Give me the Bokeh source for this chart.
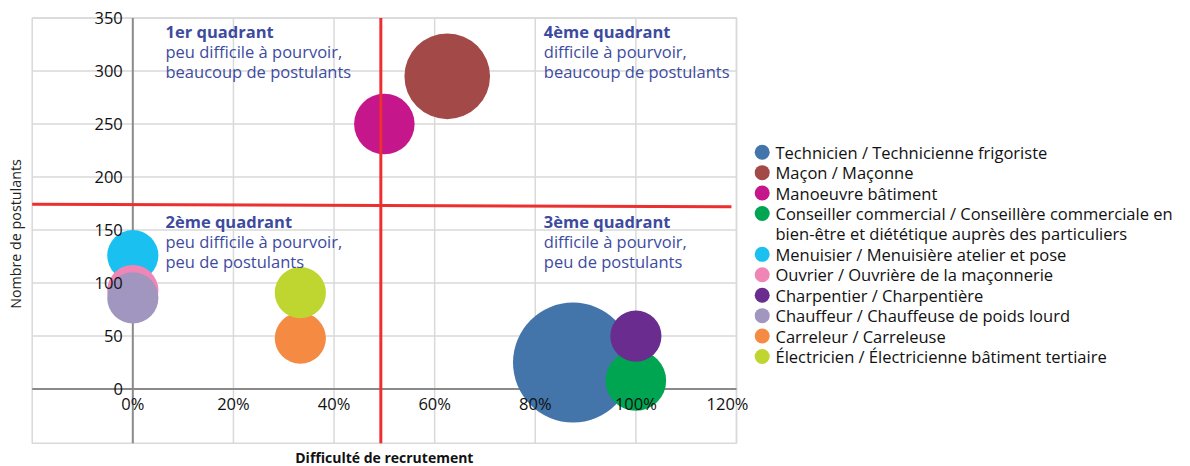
import math
from bokeh.plotting import figure
from bokeh.layouts import row
from bokeh.models import Range1d, FixedTicker, Label, ColumnDataSource
from bokeh.core.properties import value
from bokeh.embed import file_html
from bokeh.resources import INLINE

# ---------------- data ----------------
metiers = [
    "Technicien / Technicienne frigoriste",
    "Maçon / Maçonne",
    "Manoeuvre bâtiment",
    "Conseiller commercial / Conseillère commerciale en\nbien-être et diététique auprès des particuliers",
    "Menuisier / Menuisière atelier et pose",
    "Ouvrier / Ouvrière de la maçonnerie",
    "Charpentier / Charpentière",
    "Chauffeur / Chauffeuse de poids lourd",
    "Carreleur / Carreleuse",
    "Électricien / Électricienne bâtiment tertiaire",
]
difficulte = [0.875, 0.625, 0.50, 1.00, 0.0, 0.0, 1.00, 0.0, 0.333, 0.333]
postulants = [25, 295, 250, 8, 126, 93, 50, 86, 48, 91]
taille = [55, 28, 14, 14, 10, 10, 10, 10, 10, 10]
couleurs = ["#4374aa", "#a34a48", "#c5168b", "#00a551", "#19c0f0",
            "#ef86b6", "#6a2c8e", "#a096bf", "#f58b43", "#bfd631"]

x_ticks = [0, 0.2, 0.4, 0.6, 0.8, 1.0, 1.2]
x_tick_labels = ["0%", "20%", "40%", "60%", "80%", "100%", "120%"]
y_ticks = [0, 50, 100, 150, 200, 250, 300, 350]
y_tick_labels = ["0", "50", "100", "150", "200", "250", "300", "350"]

# plot area (value extent)
x_min, x_max = -0.2, 1.2
y_min, y_max = -51, 350

seuil_difficulte = 0.493
seuil_postulants_x = [-0.2, 1.19]
seuil_postulants_y = [174.4, 171.9]

quadrant_titres = ["1er quadrant", "2ème quadrant", "3ème quadrant", "4ème quadrant"]
quadrant_textes = [
    ["peu difficile à pourvoir,", "beaucoup de postulants"],
    ["peu difficile à pourvoir,", "peu de postulants"],
    ["difficile à pourvoir,", "peu de postulants"],
    ["difficile à pourvoir,", "beaucoup de postulants"],
]
quadrant_x = [0.065, 0.065, 0.817, 0.817]
quadrant_y = [336.8, 158.4, 158.4, 336.8]

titre_x = "Difficulté de recrutement"
titre_y = "Nombre de postulants"

# ---------------- layout (pixels) ----------------
FONT = "Open Sans"
QCOL = "#3d4b9f"
RED = "#ec2f2f"
GRID = "#d9d9d9"
R_MAX = 60.0

W_MAIN, H = 748, 466
PL, PR, PT, PB = 31.7, 736.0, 17.5, 442.7   # plot-area box inside the canvas
kx = (PR - PL) / (x_max - x_min)
ky = (PB - PT) / (y_max - y_min)
xr = Range1d(x_min - PL / kx, x_max + (W_MAIN - PR) / kx)
yr = Range1d(y_min - (H - PB) / ky, y_max + PT / ky)

p = figure(frame_width=W_MAIN, frame_height=H, x_range=xr, y_range=yr,
           min_border=0, toolbar_location=None, output_backend="svg",
           background_fill_color="white", border_fill_color="white")
p.outline_line_color = None
p.grid.visible = False

# grid lines and plot-area border
p.segment(x0=x_ticks[1:], y0=[y_min] * (len(x_ticks) - 1), x1=x_ticks[1:], y1=[y_max] * (len(x_ticks) - 1),
          line_color=GRID, line_width=1.5)
p.segment(x0=[x_min] * (len(y_ticks) - 1), y0=y_ticks[1:], x1=[x_max] * (len(y_ticks) - 1), y1=y_ticks[1:],
          line_color=GRID, line_width=1.5)
p.quad(left=[x_min], right=[x_max], bottom=[y_min], top=[y_max],
       fill_color=None, line_color=GRID, line_width=1.5)
# axis lines through the origin
p.segment(x0=[0, x_min], y0=[y_min, 0], x1=[0, x_max], y1=[y_max, 0],
          line_color="#8a8a8a", line_width=2)

# bubbles
diam = [2 * R_MAX * math.sqrt(t / max(taille)) for t in taille]
src = ColumnDataSource(dict(x=difficulte, y=postulants, d=diam, c=couleurs, m=metiers))
p.scatter("x", "y", size="d", marker="circle", fill_color="c", line_color=None, source=src)

# quadrant separators
p.segment(x0=[seuil_difficulte], y0=[y_min], x1=[seuil_difficulte], y1=[y_max],
          line_color=RED, line_width=3)
p.line(seuil_postulants_x, seuil_postulants_y, line_color=RED, line_width=3)

# axes crossing at the origin
p.xaxis.ticker = FixedTicker(ticks=x_ticks)
p.xaxis.major_label_overrides = dict(zip(x_ticks, x_tick_labels))
p.yaxis.ticker = FixedTicker(ticks=y_ticks)
p.yaxis.major_label_overrides = dict(zip(y_ticks, y_tick_labels))
for ax in (p.xaxis, p.yaxis):
    ax.fixed_location = 0
    ax.axis_line_color = None
    ax.major_tick_line_color = None
    ax.minor_tick_line_color = None
    ax.major_tick_out = 0
    ax.major_tick_in = 0
    ax.minor_tick_out = 0
    ax.major_label_text_font = FONT
    ax.major_label_text_font_size = "16.5px"
    ax.major_label_text_color = "#111111"
p.xaxis.major_label_standoff = 3
p.yaxis.major_label_standoff = 10

# quadrant texts
p.text(x=quadrant_x, y=quadrant_y, text=quadrant_titres, text_font=value(FONT),
       text_font_size="16.5px", text_font_style="bold", text_color=QCOL,
       text_baseline="middle", text_align="left")
for k in range(2):
    p.text(x=quadrant_x, y=quadrant_y, text=[t[k] for t in quadrant_textes],
           y_offset=20 * (k + 1), text_font=value(FONT), text_font_size="16.5px",
           text_color=QCOL, text_baseline="middle", text_align="left")

# axis titles
p.add_layout(Label(x=(x_min + x_max) / 2, y=y_min - 14.5 / ky, text=titre_x, text_font=FONT,
                   text_font_size="14px", text_font_style="bold", text_color="#111111",
                   text_align="center", text_baseline="middle"))
p.add_layout(Label(x=x_min - 16.7 / kx, y=146.3, text=titre_y, text_font=FONT,
                   text_font_size="14.3px", text_color="#222222", angle=90, angle_units="deg",
                   text_align="center", text_baseline="middle"))

# ---------------- legend ----------------
LW = 1190 - W_MAIN
lg = figure(frame_width=LW, frame_height=H, x_range=Range1d(0, LW), y_range=Range1d(H, 0),
            x_axis_type=None, y_axis_type=None, toolbar_location=None,
            output_backend="svg", min_border=0, outline_line_color=None)
lg.xgrid.visible = False
lg.ygrid.visible = False

STEP = 20.43
Y0 = 151.7
mk_y, txt_y, txt = [], [], []
line_idx = 0
for name in metiers:
    parts = name.split("\n")
    mk_y.append(Y0 + line_idx * STEP)
    for part in parts:
        txt_y.append(Y0 + line_idx * STEP)
        txt.append(part)
        line_idx += 1
lg.scatter(x=[13.7] * len(metiers), y=mk_y, size=15, marker="circle",
           fill_color=couleurs, line_color=None)
lg.text(x=[27] * len(txt), y=txt_y, text=txt, text_font=value(FONT), text_font_size="16.5px",
        text_color="#111111", text_baseline="middle", text_align="left")

layout = row(p, lg)
open("out.html", "w").write(file_html(layout, INLINE))
